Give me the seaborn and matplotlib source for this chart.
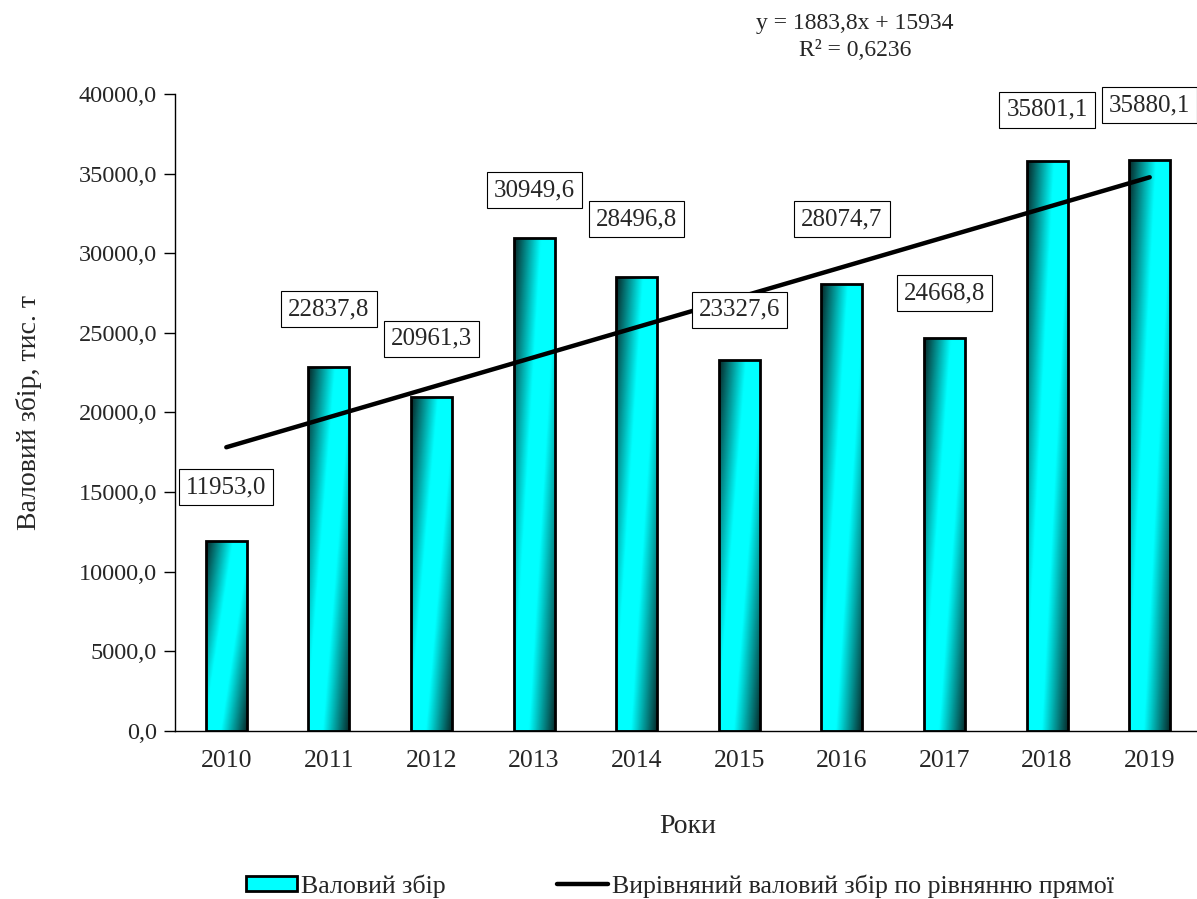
import numpy as np
import pandas as pd
import seaborn as sns
import matplotlib.pyplot as plt
from matplotlib.colors import LinearSegmentedColormap
from matplotlib.ticker import FuncFormatter, MultipleLocator
from matplotlib.patches import Patch
from matplotlib.lines import Line2D

years = ["2010", "2011", "2012", "2013", "2014", "2015", "2016", "2017", "2018", "2019"]
harvest = [11953.0, 22837.8, 20961.3, 30949.6, 28496.8, 23327.6, 28074.7, 24668.8, 35801.1, 35880.1]
# label box positions (as placed in the original chart)
label_y = [15320, 26500, 24620, 33970, 32150, 26440, 32150, 27500, 39000, 39310]
# fitted trend line ends (2010 and 2019)
trend_x = [0, 9]
trend_y = [17818, 34772]

sns.set_style("white")
plt.rcParams["font.family"] = ["Liberation Serif", "DejaVu Serif"]

df = pd.DataFrame({"Рік": years, "Валовий збір": harvest})

fig = plt.figure(figsize=(11.97, 8.99), dpi=100)
ax = fig.add_axes([175 / 1197, 168 / 899, 1026 / 1197, 637 / 899])

sns.barplot(data=df, x="Рік", y="Валовий збір", ax=ax, width=0.4,
            color="#00ffff", edgecolor="black", linewidth=2, saturation=1)

# diagonal dark-cyan-dark gradient fill for the bars
cmap = LinearSegmentedColormap.from_list(
    "cyan_grad", [(0, "#062626"), (0.38, "#00ffff"), (0.62, "#00ffff"), (1, "#062626")])
u, v = np.meshgrid(np.linspace(0, 1, 100), np.linspace(0, 1, 200))
grad = (u + 0.7 * v) / 1.7  # v=0 is top row of image
for p in ax.patches:
    x0, y0 = p.get_x(), p.get_y()
    w, h = p.get_width(), p.get_height()
    im = ax.imshow(grad, cmap=cmap, extent=[x0, x0 + w, y0, y0 + h],
                   aspect="auto", zorder=p.get_zorder() + 0.1, origin="upper")
    im.set_clip_path(p)
    p.set_facecolor("none")
    p.set_zorder(p.get_zorder() + 0.2)

sns.lineplot(x=trend_x, y=trend_y, ax=ax, color="black", linewidth=3.2, zorder=5)

for i, (val, ly) in enumerate(zip(harvest, label_y)):
    ax.text(i, ly, f"{val:.1f}".replace(".", ","), ha="center", va="center", fontsize=18,
            bbox=dict(boxstyle="square,pad=0.28", facecolor="white", edgecolor="black", linewidth=0.8),
            zorder=6)

ax.set_xlim(-0.5, 9.5)
ax.set_ylim(0, 40000)
ax.yaxis.set_major_locator(MultipleLocator(5000))
ax.yaxis.set_major_formatter(FuncFormatter(lambda y, _: f"{y:.1f}".replace(".", ",")))
ax.set_xticks(range(len(years)))
ax.set_xticklabels(years)
ax.set_xticks(np.arange(-0.5, 9.6, 1), minor=True)
ax.tick_params(axis="x", which="major", length=0, pad=14, labelsize=18.5)
ax.tick_params(axis="x", which="minor", direction="inout", length=11, width=1, color="black")
ax.tick_params(axis="y", which="major", direction="out", length=8, width=1, color="black",
               labelsize=17.5, pad=5, left=True)

for s in ["top", "right"]:
    ax.spines[s].set_visible(False)
for s in ["left", "bottom"]:
    ax.spines[s].set_color("black")
    ax.spines[s].set_linewidth(1)

ax.set_xlabel("Роки", fontsize=20, labelpad=30)
ax.set_ylabel("Валовий збір, тис. т", fontsize=20, labelpad=26)

fig.text(855 / 1197, 1 - 37 / 899, "y = 1883,8x + 15934\nR² = 0,6236",
         ha="center", va="center", fontsize=17, linespacing=1.4)

handles = [Patch(facecolor="#00ffff", edgecolor="black", linewidth=2),
           Line2D([0], [0], color="black", linewidth=3.2)]
fig.legend(handles, ["Валовий збір", "Вирівняний валовий збір по рівнянню прямої"],
           loc="center", bbox_to_anchor=(680 / 1197, 1 - 886 / 899), ncol=2, frameon=False,
           fontsize=18.7, handlelength=1.95, handletextpad=0.15, columnspacing=4.3,
           handleheight=0.55)

fig.savefig("out.png", dpi=100)
